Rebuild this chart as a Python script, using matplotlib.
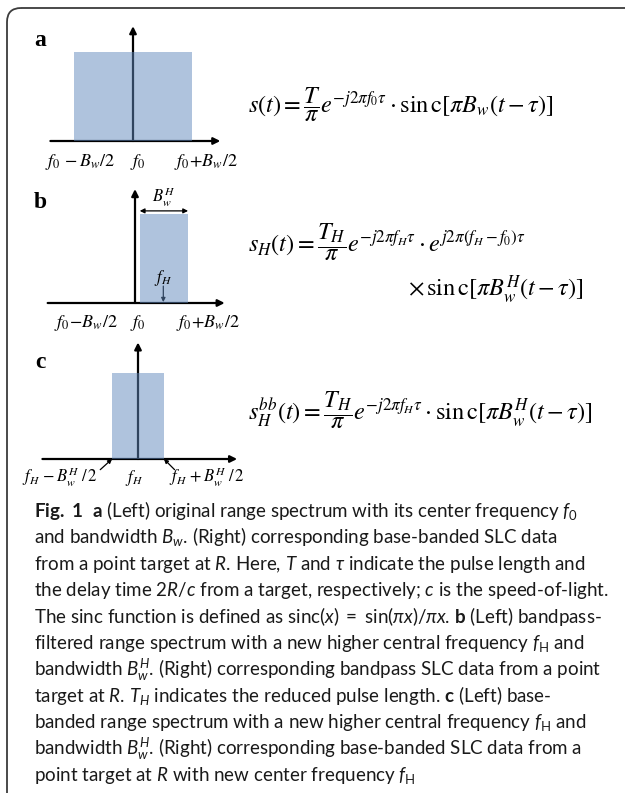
import matplotlib
matplotlib.use('Agg')
import matplotlib.pyplot as plt
from matplotlib.patches import FancyBboxPatch

# spectrum bands, in units of the full bandwidth Bw, relative to the vertical axis
band_a = [-0.5, 0.5]
band_b = [0.04, 0.45]
band_c = [-0.22, 0.22]
band_height = [1.0, 1.0, 0.97]
fH_b = 0.24

ticks_a = [r'$f_0\,-B_w/2$', r'$f_0$', r'$f_0\!+\!B_w/2$']
ticks_b = [r'$f_0\!-\!B_w/2$', r'$f_0$', r'$f_0\!+\!B_w/2$']
ticks_c = [r'$f_H\,-B_w^H\;/\,2$', r'$f_H$', r'$f_H\,+B_w^H\;/\,2$']

eq_a = r'$s(t)=\dfrac{T}{\pi}e^{-j2\pi f_0\tau}\cdot\mathrm{sin\,c}[\pi B_w(t-\tau)]$'
eq_b1 = r'$s_H(t)=\dfrac{T_H}{\pi}e^{-j2\pi f_H\tau}\cdot e^{j2\pi(f_H-f_0)\tau}$'
eq_b2 = r'$\times\,\mathrm{sin\,c}[\pi B_w^H(t-\tau)]$'
eq_c = r'$s_H^{bb}(t)=\dfrac{T_H}{\pi}e^{-j2\pi f_H\tau}\cdot\mathrm{sin\,c}[\pi B_w^H(t-\tau)]$'

caption_lines = [
    r'$\mathbf{Fig.\ 1}$  $\mathbf{a}$ (Left) original range spectrum with its center frequency $f_\mathrm{0}$',
    r'and bandwidth $B_{w}$. (Right) corresponding base-banded SLC data',
    r'from a point target at $R$. Here, $T$ and $\tau$ indicate the pulse length and',
    r'the delay time $2R/c$ from a target, respectively; $c$ is the speed-of-light.',
    r'The sinc function is defined as sinc($x$) $=$ sin($\pi x$)/$\pi x$. $\mathbf{b}$ (Left) bandpass-',
    r'filtered range spectrum with a new higher central frequency $f_\mathrm{H}$ and',
    r'bandwidth $B_w^H$. (Right) corresponding bandpass SLC data from a point',
    r'target at $R$. $T_H$ indicates the reduced pulse length. $\mathbf{c}$ (Left) base-',
    r'banded range spectrum with a new higher central frequency $f_\mathrm{H}$ and',
    r'bandwidth $B_w^H$. (Right) corresponding base-banded SLC data from a',
    r'point target at $R$ with new center frequency $f_\mathrm{H}$',
]

W, H = 625, 793
plt.rcParams['font.family'] = ['Lato', 'DejaVu Sans']
plt.rcParams['mathtext.fontset'] = 'custom'
plt.rcParams['mathtext.rm'] = 'Lato'
plt.rcParams['mathtext.it'] = 'Lato:italic'
plt.rcParams['mathtext.bf'] = 'Lato:bold'

fig = plt.figure(figsize=(W / 100, H / 100), dpi=100)
bg = fig.add_axes([0, 0, 1, 1])
bg.set_xlim(0, W)
bg.set_ylim(H, 0)
bg.axis('off')

bg.add_patch(FancyBboxPatch((7, 8), 700, 850, boxstyle='round,pad=0,rounding_size=14',
                            fill=False, ec='#3c3c3c', lw=1.3))

SX, SY = 118, 89
BOX = '#6189BD'


def diagram_axes(ox, oy, xlim, ylim):
    left, right = ox + xlim[0] * SX, ox + xlim[1] * SX
    top, bottom = oy - ylim[1] * SY, oy - ylim[0] * SY
    ax = fig.add_axes([left / W, 1 - bottom / H, (right - left) / W, (bottom - top) / H])
    ax.set_xlim(xlim)
    ax.set_ylim(ylim)
    ax.axis('off')
    ax.patch.set_visible(False)
    return ax


def arrow(ax, start, end, lw=1.6, ms=10, style='-|>'):
    ax.annotate('', xy=end, xytext=start,
                arrowprops=dict(arrowstyle=style, color='black', lw=lw,
                                mutation_scale=ms, shrinkA=0, shrinkB=0), zorder=2)


def band(ax, edges, h):
    ax.bar(edges[0], h, width=edges[1] - edges[0], align='edge',
           color=BOX, alpha=0.5, zorder=3, linewidth=0)


# panel a
ax = diagram_axes(133, 141, (-1.0, 1.0), (-0.4, 1.35))
arrow(ax, (-0.70, 0), (0.74, 0))
arrow(ax, (0, 0), (0, 1.29))
band(ax, band_a, band_height[0])
for x, lab in zip([-0.45, 0.04, 0.62], ticks_a):
    ax.text(x, -0.24, lab, ha='center', va='center', fontsize=13, math_fontfamily='stix')

# panel b
ax = diagram_axes(135, 303, (-1.0, 1.0), (-0.4, 1.35))
arrow(ax, (-0.74, 0), (0.76, 0))
arrow(ax, (0, 0), (0, 1.28))
band(ax, band_b, band_height[1])
arrow(ax, (band_b[0], 1.035), (band_b[1], 1.035), lw=0.9, ms=7, style='<|-|>')
ax.text(fH_b, 1.19, r'$B_w^H$', ha='center', va='center', fontsize=12, math_fontfamily='stix')
ax.text(fH_b, 0.28, r'$f_H$', ha='center', va='center', fontsize=12, math_fontfamily='stix')
arrow(ax, (fH_b, 0.19), (fH_b, 0.01), lw=0.9, ms=6)
for x, lab in zip([-0.42, 0.02, 0.62], ticks_b):
    ax.text(x, -0.22, lab, ha='center', va='center', fontsize=13, math_fontfamily='stix')

# panel c
ax = diagram_axes(138, 459, (-1.05, 1.0), (-0.4, 1.35))
arrow(ax, (-0.81, 0), (0.84, 0))
arrow(ax, (0, 0), (0, 1.31))
band(ax, band_c, band_height[2])
for x, lab in zip([-0.66, -0.03, 0.58], ticks_c):
    ax.text(x, -0.21, lab, ha='center', va='center', fontsize=12, math_fontfamily='stix')
arrow(ax, (-0.32, -0.12), (band_c[0], 0), lw=0.9, ms=6)
arrow(ax, (0.31, -0.12), (band_c[1], 0), lw=0.9, ms=6)

# panel letters
for y, lab in zip([40, 203, 362], ['a', 'b', 'c']):
    bg.text(40, y, lab, ha='center', va='center', fontsize=17, fontweight='bold',
            family='Liberation Serif')

# equations
bg.text(248, 105, eq_a, ha='left', va='center', fontsize=17.5, math_fontfamily='stix')
bg.text(248, 242, eq_b1, ha='left', va='center', fontsize=17.5, math_fontfamily='stix')
bg.text(408, 290, eq_b2, ha='left', va='center', fontsize=17.5, math_fontfamily='stix')
bg.text(248, 410, eq_c, ha='left', va='center', fontsize=17.5, math_fontfamily='stix')

# caption
for i, line in enumerate(caption_lines):
    bg.text(34, 517 + 26.4 * i, line, ha='left', va='baseline', fontsize=13.5, color='#1a1a1a')

fig.savefig('out.png', dpi=100)
